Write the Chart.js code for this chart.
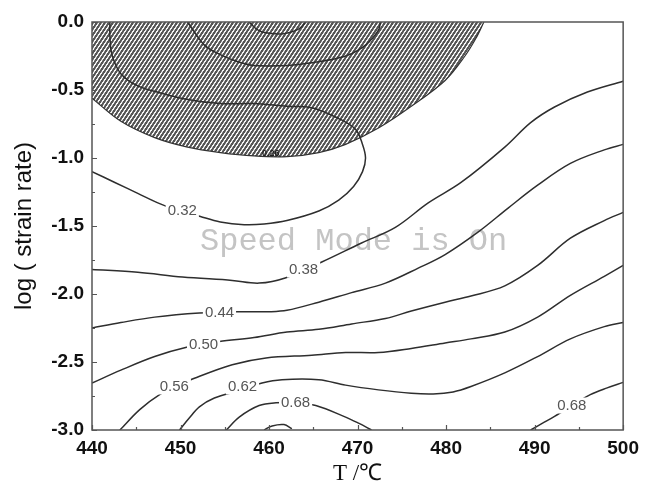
<!DOCTYPE html>
<html>
<head>
<meta charset="utf-8">
<script src="https://cdn.jsdelivr.net/npm/chart.js@4.4.0/dist/chart.umd.min.js"></script>
<style>
body{margin:0;background:#fff;}
#wrap{width:646px;height:485px;}
</style>
</head>
<body>
<div id="wrap"><canvas id="myChart" width="646" height="485"></canvas></div>
<script>
// contour lines: temperature (C) and log(strain rate)
const hatchT=[440,443.26,447.08,450.79,454.49,458.31,462.02,465.62,468.65,472.36,476.07,479.89,482.13,483.37,484.27];
const hatchR=[-0.56,-0.73,-0.85,-0.92,-0.96,-0.985,-0.99,-0.96,-0.90,-0.78,-0.62,-0.43,-0.25,-0.12,0];

const c032T=[440,442.58,445.17,448.2,452.25,454.49,457.19,459.44,462.02,465.62,467.87,469.55,470.56,470.9,470.56,469.78,467.87,464.83,462.02,458.31,454.49,450.79,447.64,445.17,443.26,442.25,442.02,442.02];
const c032R=[-1.10,-1.18,-1.26,-1.35,-1.43,-1.47,-1.49,-1.485,-1.46,-1.39,-1.31,-1.21,-1.10,-1.00,-0.90,-0.79,-0.71,-0.63,-0.62,-0.60,-0.60,-0.57,-0.52,-0.47,-0.38,-0.24,-0.10,0];

const c026T=[450.79,452.7,454.49,456.4,458.31,462.02,464.83,468.65,470.9,472.36,472.58];
const c026R=[0,-0.17,-0.24,-0.29,-0.32,-0.32,-0.30,-0.25,-0.17,-0.06,0];

const c020T=[457.75,458.43,459.21,461.46,463.37,464.16];
const c020R=[0,-0.044,-0.074,-0.088,-0.051,0];

const c038T=[440,445.17,450.22,455.84,458.88,461.91,465.96,470.45,474.27,477.98,481.69,486.63,489.55,492.25,495.96,500];
const c038R=[-1.82,-1.84,-1.875,-1.90,-1.92,-1.88,-1.765,-1.625,-1.51,-1.33,-1.18,-0.92,-0.74,-0.625,-0.515,-0.435];

const c044T=[440,443.26,447.08,452.13,456.4,460.11,462.02,465.62,469.33,473.15,476.85,479.89,483.6,486.97,490.34,494.04,497.87,500];
const c044R=[-2.25,-2.21,-2.17,-2.14,-2.13,-2.13,-2.12,-2.06,-1.99,-1.92,-1.81,-1.71,-1.545,-1.37,-1.20,-1.04,-0.94,-0.90];

const c050T=[440,443.26,447.08,450.79,454.38,458.31,462.02,465.62,469.33,473.15,476.07,479.89,482.81,486.63,490.34,494.04,497.87,500];
const c050R=[-2.655,-2.56,-2.46,-2.39,-2.35,-2.32,-2.28,-2.26,-2.22,-2.18,-2.125,-2.06,-2.015,-1.94,-1.79,-1.59,-1.46,-1.40];

const c056T=[443.15,445.39,447.64,449.55,451.57,455.84,459.66,464.83,468.65,472.36,476.07,479.89,482.81,486.63,490.34,494.04,497.87,500];
const c056R=[-3.0,-2.85,-2.74,-2.68,-2.62,-2.52,-2.47,-2.45,-2.43,-2.43,-2.40,-2.36,-2.33,-2.28,-2.17,-2.01,-1.87,-1.79];

const c062T=[449.89,451.01,452.13,453.82,456.63,459.21,461.46,465.62,468.65,472.36,476.07,478.54,480.79,482.81,486.63,490.34,494.04,497.87,500];
const c062R=[-3.0,-2.91,-2.83,-2.765,-2.71,-2.655,-2.63,-2.63,-2.67,-2.705,-2.73,-2.735,-2.72,-2.68,-2.58,-2.46,-2.33,-2.24,-2.21];

const c068aT=[455.17,456.63,458.88,460.79,463.03,465.28,468.65,470.11,471.57];
const c068aR=[-3.0,-2.905,-2.82,-2.80,-2.80,-2.82,-2.905,-2.95,-3.0];

const c068bT=[489.55,490.9,492.25,494.27,496.29,498.2,500];
const c068bR=[-3.0,-2.95,-2.90,-2.82,-2.74,-2.69,-2.65];

const bumpT=[459.44,460.34,461.69,462.58];
const bumpR=[-3.0,-2.97,-2.96,-2.99];

// contour value labels
const labelText=['0.32','0.38','0.44','0.50','0.56','0.62','0.68','0.68','0.26'];
const labelT=[450.2,463.9,454.4,452.6,449.3,457.0,463.0,494.2,460.2];
const labelR=[-1.39,-1.82,-2.14,-2.375,-2.68,-2.68,-2.80,-2.82,-0.965];

function pts(t,r){
    return t.map((v,i)=>({x:v,y:r[i]}));
}
function contour(t,r){
    return {data:pts(t,r),borderColor:'#2e2e2e',borderWidth:1.5,pointRadius:0,tension:0.35,fill:false,order:0};
}

// diagonal hatch for the instability zone
function hatchPattern(){
    let c=document.createElement('canvas');
    c.width=4;c.height=6;
    let g=c.getContext('2d');
    let img=g.createImageData(4,6);
    for(let j=0;j<6;j++){
        for(let i=0;i<4;i++){
            let d=(6*(i+0.5)+4*(j+0.5))%24;
            d=Math.min(d,24-d)/7.21;
            let v=d<0.7?85:(d<1.05?150:245);
            let k=(j*4+i)*4;
            img.data[k]=v;img.data[k+1]=v;img.data[k+2]=v;img.data[k+3]=255;
        }
    }
    g.putImageData(img,0,0);
    return g.createPattern(c,'repeat');
}

const extras={
    id:'extras',
    beforeDatasetsDraw(chart){
        const ctx=chart.ctx;
        ctx.save();
        ctx.font='32px "Liberation Mono"';
        ctx.fillStyle='#c4c4c4';
        ctx.textBaseline='alphabetic';
        ctx.fillText('Speed Mode is On',200,250);
        ctx.restore();
    },
    afterDatasetsDraw(chart){
        const {ctx,scales:{x,y}}=chart;
        ctx.save();
        ctx.textAlign='center';
        ctx.textBaseline='middle';
        for(let i=0;i<labelText.length;i++){
            let px=x.getPixelForValue(labelT[i]);
            let py=y.getPixelForValue(labelR[i]);
            let small=labelText[i]==='0.26';
            ctx.font=small?'bold 9px "Liberation Sans"':'15px "Liberation Sans"';
            let w=ctx.measureText(labelText[i]).width;
            if(!small){
                ctx.fillStyle='#fff';
                ctx.fillRect(px-w/2-2,py-8,w+4,16);
            }
            ctx.fillStyle=small?'#222':'#555';
            ctx.fillText(labelText[i],px,py);
        }
        ctx.restore();
    },
    afterDraw(chart){
        const {ctx,chartArea:a,scales:{x,y}}=chart;
        ctx.save();
        ctx.strokeStyle='#555';
        ctx.lineWidth=1.5;
        ctx.strokeRect(a.left,a.top,a.right-a.left,a.bottom-a.top);
        ctx.lineWidth=1.2;
        ctx.beginPath();
        for(let v=440;v<=500;v+=5){
            let px=Math.round(x.getPixelForValue(v))+0.5;
            let len=v%10===0?5:3;
            ctx.moveTo(px,a.bottom);ctx.lineTo(px,a.bottom-len);
        }
        for(let k=0;k<=12;k++){
            let v=-k*0.25;
            let py=Math.round(y.getPixelForValue(v))+0.5;
            let len=k%2===0?5:3;
            ctx.moveTo(a.left,py);ctx.lineTo(a.left+len,py);
        }
        ctx.stroke();
        ctx.restore();
    }
};

const ctx=document.getElementById('myChart').getContext('2d');
const chart=new Chart(ctx,{
    type:'line',
    data:{
        datasets:[
            contour(c032T,c032R),
            contour(c026T,c026R),
            contour(c020T,c020R),
            contour(c038T,c038R),
            contour(c044T,c044R),
            contour(c050T,c050R),
            contour(c056T,c056R),
            contour(c062T,c062R),
            contour(c068aT,c068aR),
            contour(c068bT,c068bR),
            contour(bumpT,bumpR),
            {data:pts(hatchT,hatchR),borderColor:'#333',borderWidth:1.2,backgroundColor:hatchPattern(),fill:'end',pointRadius:0,tension:0.35,order:5}
        ]
    },
    options:{
        responsive:false,
        animation:false,
        layout:{padding:{top:22,right:20,left:0,bottom:0}},
        plugins:{legend:{display:false},tooltip:{enabled:false}},
        scales:{
            x:{
                type:'linear',min:440,max:500,
                grid:{display:false,drawTicks:false},
                border:{display:false},
                ticks:{stepSize:10,padding:7,color:'#111',font:{family:'Liberation Sans',size:19,weight:'bold'}},
                title:{display:true,text:'T /℃',color:'#111',font:{family:'Liberation Serif',size:23,lineHeight:1},padding:{top:0,bottom:0}},
                afterFit(s){s.height=55;}
            },
            y:{
                type:'linear',min:-3,max:0,
                grid:{display:false,drawTicks:false},
                border:{display:false},
                ticks:{stepSize:0.5,padding:8,color:'#111',font:{family:'Liberation Sans',size:19,weight:'bold'},
                    callback:v=>v.toFixed(1)},
                title:{display:true,text:'log ( strain rate)',color:'#111',font:{family:'Liberation Sans',size:24,lineHeight:1},padding:{top:12,bottom:0}},
                afterFit(s){s.width=92;}
            }
        }
    },
    plugins:[extras]
});
</script>
</body>
</html>
